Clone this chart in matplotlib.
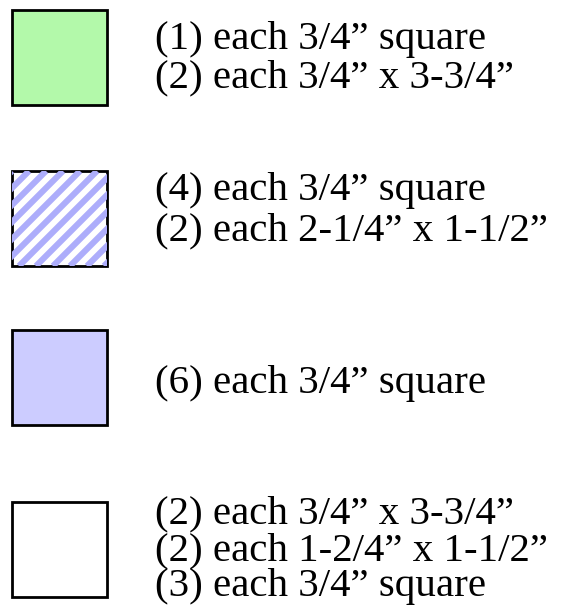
import numpy as np
import matplotlib
matplotlib.use("Agg")
import matplotlib.pyplot as plt
from matplotlib.patches import Rectangle

# legend entries: fill colour, striped or not, label lines
fills = ["#b3f9aa", "white", "#ccccff", "white"]
striped = [False, True, False, False]
stripe_color = "#adadfb"
labels = [
    ["(1) each 3/4\u201d square", "(2) each 3/4\u201d x 3-3/4\u201d"],
    ["(4) each 3/4\u201d square", "(2) each 2-1/4\u201d x 1-1/2\u201d"],
    ["(6) each 3/4\u201d square"],
    ["(2) each 3/4\u201d x 3-3/4\u201d", "(2) each 1-2/4\u201d x 1-1/2\u201d", "(3) each 3/4\u201d square"],
]
swatch_top = [10, 171, 330, 502]
baselines = [[49, 87], [200, 240], [393], [523, 560, 596]]

fig = plt.figure(figsize=(5.72, 6.09), dpi=100)
ax = fig.add_axes([0, 0, 1, 1])
ax.set_xlim(0, 572)
ax.set_ylim(609, 0)
ax.axis("off")

size = 95
for fc, st, lines, top, ys in zip(fills, striped, labels, swatch_top, baselines):
    box = Rectangle((12, top), size, size, facecolor=fc, edgecolor="none")
    ax.add_patch(box)
    if st:
        # diagonal stripes "/" clipped to the swatch
        period = 17
        for k in np.arange(-size, size + period, period):
            ln, = ax.plot([12 + k, 12 + k + size], [top + size, top],
                          color=stripe_color, lw=4.4, solid_capstyle="butt")
            ln.set_clip_path(box)
    ax.add_patch(Rectangle((12, top), size, size, facecolor="none",
                           edgecolor="black", lw=2))
    for line, y in zip(lines, ys):
        ax.text(155, y, line, fontsize=29.5, family="Liberation Serif",
                va="baseline", ha="left")

plt.savefig("out.png", dpi=100)
